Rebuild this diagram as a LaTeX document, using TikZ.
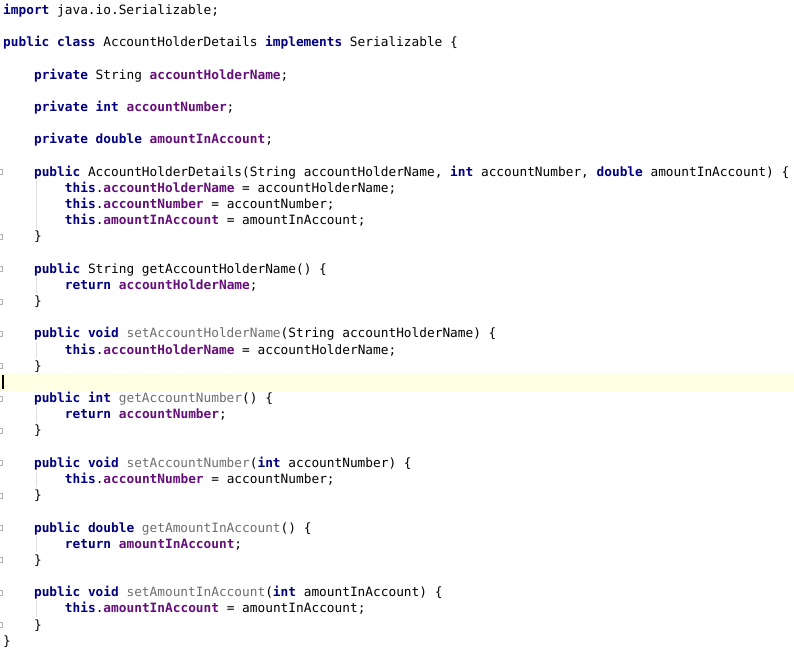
\documentclass[tikz,border=0pt]{standalone}
\usepackage{fontspec}
\setmonofont{DejaVu Sans Mono}
\definecolor{kw}{RGB}{0,0,128}
\definecolor{fld}{RGB}{102,14,122}
\definecolor{mth}{RGB}{110,110,110}
\definecolor{hl}{RGB}{255,255,228}
\newcommand{\K}[1]{\textbf{\color{kw}#1}}
\newcommand{\F}[1]{\textbf{\color{fld}#1}}
\newcommand{\M}[1]{{\color{mth}#1}}
\tikzset{codeline/.style={anchor=base west,inner sep=0pt,font=\ttfamily\fontsize{12.8}{14}\selectfont},
fold/.style={draw=gray!60,fill=white,line width=0.4pt}}
\newcommand{\cl}[3]{\node[codeline] (l#1) at ({3+7.72*#2},{-14.3-16.18*#1}) {#3};}
\begin{document}
\begin{tikzpicture}[x=1pt,y=1pt]
\useasboundingbox (0,0) rectangle (794,-653);
\fill[white] (0,0) rectangle (794,-653);
\fill[hl] (0,{-10-16.18*23+8.5}) rectangle (794,{-10-16.18*23-8.5});
\draw[line width=1.6pt] (3,{-10-16.18*23+7}) -- (3,{-10-16.18*23-7});
\foreach \r in {10,14,16,18,20,22,24,26,28,30,32,34,36,38}{
  \draw[fold] (-1,{-10-16.18*\r-2.5}) rectangle (2,{-10-16.18*\r+2.5});
}
\foreach \a/\b in {10/14,16/18,20/22,24/26,28/30,32/34,36/38}{
  \draw[gray!25,line width=0.4pt] ({3+7.72*4+2},{-10-16.18*\a-8}) -- ({3+7.72*4+2},{-10-16.18*\b+8});
}
\cl{0}{0}{\K{import} java.io.Serializable;}
\cl{2}{0}{\K{public class} AccountHolderDetails \K{implements} Serializable \{}
\cl{4}{4}{\K{private} String \F{accountHolderName};}
\cl{6}{4}{\K{private int} \F{accountNumber};}
\cl{8}{4}{\K{private double} \F{amountInAccount};}
\cl{10}{4}{\K{public} AccountHolderDetails(String accountHolderName, \K{int} accountNumber, \K{double} amountInAccount) \{}
\cl{11}{8}{\K{this}.\F{accountHolderName} = accountHolderName;}
\cl{12}{8}{\K{this}.\F{accountNumber} = accountNumber;}
\cl{13}{8}{\K{this}.\F{amountInAccount} = amountInAccount;}
\cl{14}{4}{\}}
\cl{16}{4}{\K{public} String getAccountHolderName() \{}
\cl{17}{8}{\K{return} \F{accountHolderName};}
\cl{18}{4}{\}}
\cl{20}{4}{\K{public void} \M{setAccountHolderName}(String accountHolderName) \{}
\cl{21}{8}{\K{this}.\F{accountHolderName} = accountHolderName;}
\cl{22}{4}{\}}
\cl{24}{4}{\K{public int} \M{getAccountNumber}() \{}
\cl{25}{8}{\K{return} \F{accountNumber};}
\cl{26}{4}{\}}
\cl{28}{4}{\K{public void} \M{setAccountNumber}(\K{int} accountNumber) \{}
\cl{29}{8}{\K{this}.\F{accountNumber} = accountNumber;}
\cl{30}{4}{\}}
\cl{32}{4}{\K{public double} \M{getAmountInAccount}() \{}
\cl{33}{8}{\K{return} \F{amountInAccount};}
\cl{34}{4}{\}}
\cl{36}{4}{\K{public void} \M{setAmountInAccount}(\K{int} amountInAccount) \{}
\cl{37}{8}{\K{this}.\F{amountInAccount} = amountInAccount;}
\cl{38}{4}{\}}
\cl{39}{0}{\}}
\end{tikzpicture}
\end{document}
